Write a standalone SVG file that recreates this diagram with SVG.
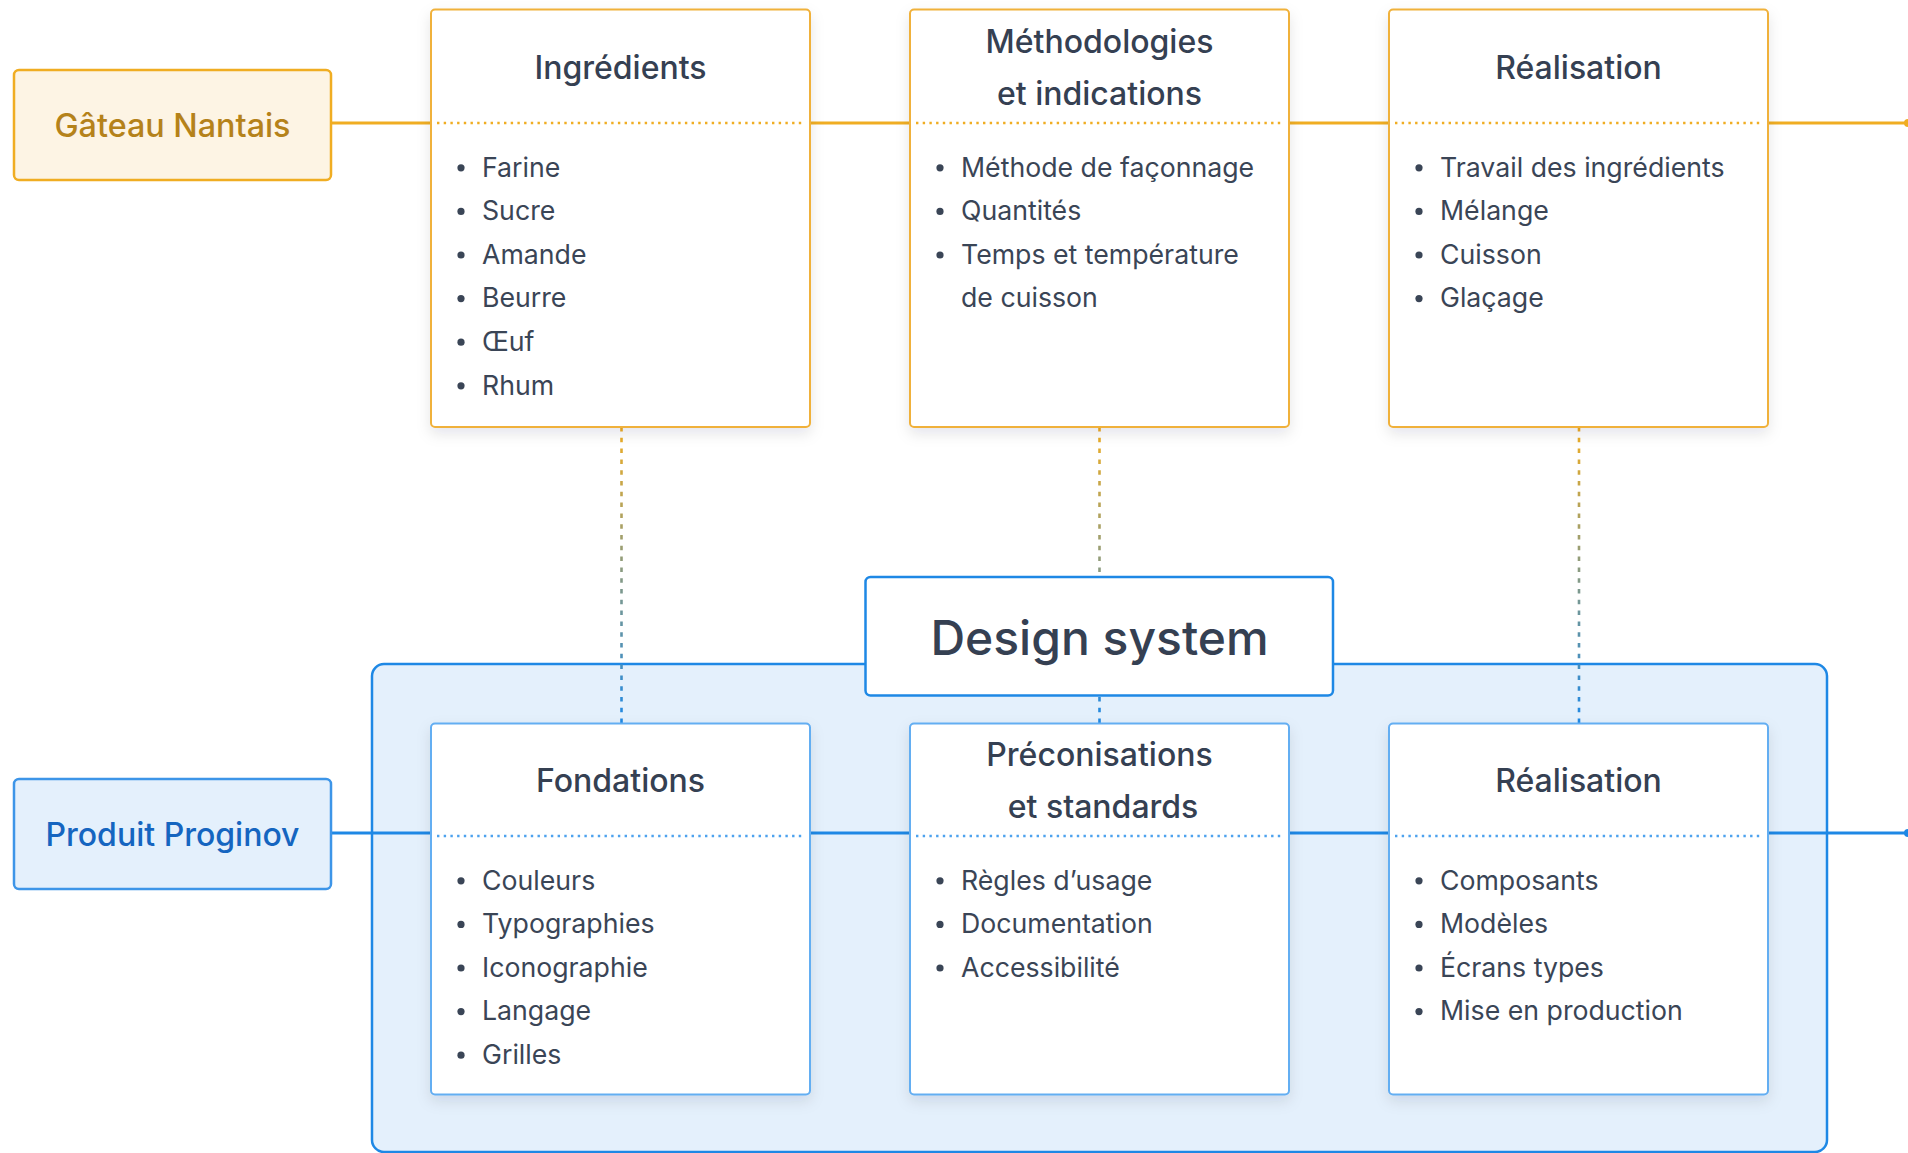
<svg xmlns="http://www.w3.org/2000/svg" width="1908" height="1153" viewBox="0 0 1908 1153">
  <defs>
    <filter id="shadow" x="-10%" y="-10%" width="120%" height="125%">
      <feDropShadow dx="0" dy="6" stdDeviation="7" flood-color="#0f1a2a" flood-opacity="0.10"/>
    </filter>
    <linearGradient id="dashGrad" gradientUnits="userSpaceOnUse" x1="0" y1="427" x2="0" y2="723">
      <stop offset="0" stop-color="#f0ad22"/>
      <stop offset="1" stop-color="#1e88e5"/>
    </linearGradient>
    <style>
      text { font-family: Inter, "Noto Sans", "Liberation Sans", sans-serif; }
      .title { font-size: 32px; font-weight: 500; fill: #354052; text-anchor: middle; }
      .item { font-size: 26.7px; font-weight: 400; fill: #3a4556; }
      .bullet { fill: #3a4556; }
      .card-top { fill: #ffffff; stroke: #f0b13a; stroke-width: 2; filter: url(#shadow); }
      .card-bot { fill: #ffffff; stroke: #64aef2; stroke-width: 2; filter: url(#shadow); }
      .sep-top { stroke: #f0ad22; stroke-width: 2.6; stroke-dasharray: 2.4 4.3; fill: none; }
      .sep-bot { stroke: #4da2ee; stroke-width: 2.6; stroke-dasharray: 2.4 4.3; fill: none; }
      .link-orange { stroke: #f0ad22; stroke-width: 3; fill: none; }
      .link-blue { stroke: #1e88e5; stroke-width: 3; fill: none; }
      .link-dash { stroke: url(#dashGrad); stroke-width: 2.6; stroke-dasharray: 4.5 6.3; fill: none; }
    </style>
  </defs>

  <rect width="1908" height="1153" fill="#ffffff"/>

  <!-- Container -->
  <g id="design-system-container">
    <rect x="372" y="664" width="1455" height="488" rx="12" fill="#e4f0fc" stroke="#1e88e5" stroke-width="2.5"/>
  </g>

  <!-- Connectors -->
  <g id="connectors">
    <line class="link-orange" x1="331" y1="123" x2="1905" y2="123"/>
    <circle cx="1908" cy="123" r="4" fill="#f0ad22"/>
    <line class="link-blue" x1="331" y1="833" x2="1905" y2="833"/>
    <circle cx="1908" cy="833" r="4" fill="#1e88e5"/>
    <line class="link-dash" x1="621.5" y1="427" x2="621.5" y2="723"/>
    <line class="link-dash" x1="1099.5" y1="427" x2="1099.5" y2="723"/>
    <line class="link-dash" x1="1579" y1="427" x2="1579" y2="723"/>
  </g>

  <!-- Left labels -->
  <g id="gateau-nantais">
    <rect x="14" y="70" width="317" height="110" rx="5" fill="#fdf4e4" stroke="#f0ad22" stroke-width="2.5"/>
    <text x="172.5" y="136.5" font-size="32.3" font-weight="500" fill="#b5821a" text-anchor="middle">Gâteau Nantais</text>
  </g>
  <g id="produit-proginov">
    <rect x="14" y="779" width="317" height="110" rx="5" fill="#e4f0fc" stroke="#3d95e8" stroke-width="2.5"/>
    <text x="172.5" y="845.5" font-size="32" font-weight="500" fill="#1565c0" text-anchor="middle">Produit Proginov</text>
  </g>

  <!-- Top row -->
  <g id="ingredients">
    <rect class="card-top" x="431" y="9.5" width="379" height="417.5" rx="4"/>
    <text class="title" x="620.5" y="78.5">Ingrédients</text>
    <line class="sep-top" x1="437" y1="123" x2="805" y2="123"/>
    <circle class="bullet" cx="461" cy="167.8" r="3.6"/><text class="item" x="482" y="176.5">Farine</text>
    <circle class="bullet" cx="461" cy="211.4" r="3.6"/><text class="item" x="482" y="220.1">Sucre</text>
    <circle class="bullet" cx="461" cy="255" r="3.6"/><text class="item" x="482" y="263.7">Amande</text>
    <circle class="bullet" cx="461" cy="298.6" r="3.6"/><text class="item" x="482" y="307.3">Beurre</text>
    <circle class="bullet" cx="461" cy="342.2" r="3.6"/><text class="item" x="482" y="350.9">Œuf</text>
    <circle class="bullet" cx="461" cy="385.8" r="3.6"/><text class="item" x="482" y="394.5">Rhum</text>
  </g>

  <g id="methodologies">
    <rect class="card-top" x="910" y="9.5" width="379" height="417.5" rx="4"/>
    <text class="title" x="1099.5" y="52.5">Méthodologies</text>
    <text class="title" x="1099.5" y="104.5">et indications</text>
    <line class="sep-top" x1="916" y1="123" x2="1284" y2="123"/>
    <circle class="bullet" cx="940" cy="167.8" r="3.6"/><text class="item" x="961" y="176.5">Méthode de façonnage</text>
    <circle class="bullet" cx="940" cy="211.4" r="3.6"/><text class="item" x="961" y="220.1">Quantités</text>
    <circle class="bullet" cx="940" cy="255" r="3.6"/><text class="item" x="961" y="263.7">Temps et température</text>
    <text class="item" x="961" y="307.3">de cuisson</text>
  </g>

  <g id="realisation-top">
    <rect class="card-top" x="1389" y="9.5" width="379" height="417.5" rx="4"/>
    <text class="title" x="1578.5" y="78.5">Réalisation</text>
    <line class="sep-top" x1="1395" y1="123" x2="1763" y2="123"/>
    <circle class="bullet" cx="1419" cy="167.8" r="3.6"/><text class="item" x="1440" y="176.5">Travail des ingrédients</text>
    <circle class="bullet" cx="1419" cy="211.4" r="3.6"/><text class="item" x="1440" y="220.1">Mélange</text>
    <circle class="bullet" cx="1419" cy="255" r="3.6"/><text class="item" x="1440" y="263.7">Cuisson</text>
    <circle class="bullet" cx="1419" cy="298.6" r="3.6"/><text class="item" x="1440" y="307.3">Glaçage</text>
  </g>

  <!-- Design system title -->
  <g id="design-system">
    <rect x="865.5" y="577" width="467.5" height="118.5" rx="5" fill="#ffffff" stroke="#1e88e5" stroke-width="2.5"/>
    <text x="1099.5" y="655" font-size="48" font-weight="500" fill="#354052" text-anchor="middle">Design system</text>
  </g>

  <!-- Bottom row -->
  <g id="fondations">
    <rect class="card-bot" x="431" y="723.5" width="379" height="371" rx="4"/>
    <text class="title" x="620.5" y="791.5">Fondations</text>
    <line class="sep-bot" x1="437" y1="836" x2="805" y2="836"/>
    <circle class="bullet" cx="461" cy="880.8" r="3.6"/><text class="item" x="482" y="889.5">Couleurs</text>
    <circle class="bullet" cx="461" cy="924.4" r="3.6"/><text class="item" x="482" y="933.1">Typographies</text>
    <circle class="bullet" cx="461" cy="968" r="3.6"/><text class="item" x="482" y="976.7">Iconographie</text>
    <circle class="bullet" cx="461" cy="1011.6" r="3.6"/><text class="item" x="482" y="1020.3">Langage</text>
    <circle class="bullet" cx="461" cy="1055.2" r="3.6"/><text class="item" x="482" y="1063.9">Grilles</text>
  </g>

  <g id="preconisations">
    <rect class="card-bot" x="910" y="723.5" width="379" height="371" rx="4"/>
    <text class="title" x="1099.5" y="765.5">Préconisations</text>
    <text class="title" x="1103" y="818">et standards</text>
    <line class="sep-bot" x1="916" y1="836" x2="1284" y2="836"/>
    <circle class="bullet" cx="940" cy="880.8" r="3.6"/><text class="item" x="961" y="889.5">Règles d’usage</text>
    <circle class="bullet" cx="940" cy="924.4" r="3.6"/><text class="item" x="961" y="933.1">Documentation</text>
    <circle class="bullet" cx="940" cy="968" r="3.6"/><text class="item" x="961" y="976.7">Accessibilité</text>
  </g>

  <g id="realisation-bottom">
    <rect class="card-bot" x="1389" y="723.5" width="379" height="371" rx="4"/>
    <text class="title" x="1578.5" y="791.5">Réalisation</text>
    <line class="sep-bot" x1="1395" y1="836" x2="1763" y2="836"/>
    <circle class="bullet" cx="1419" cy="880.8" r="3.6"/><text class="item" x="1440" y="889.5">Composants</text>
    <circle class="bullet" cx="1419" cy="924.4" r="3.6"/><text class="item" x="1440" y="933.1">Modèles</text>
    <circle class="bullet" cx="1419" cy="968" r="3.6"/><text class="item" x="1440" y="976.7">Écrans types</text>
    <circle class="bullet" cx="1419" cy="1011.6" r="3.6"/><text class="item" x="1440" y="1020.3">Mise en production</text>
  </g>
</svg>
